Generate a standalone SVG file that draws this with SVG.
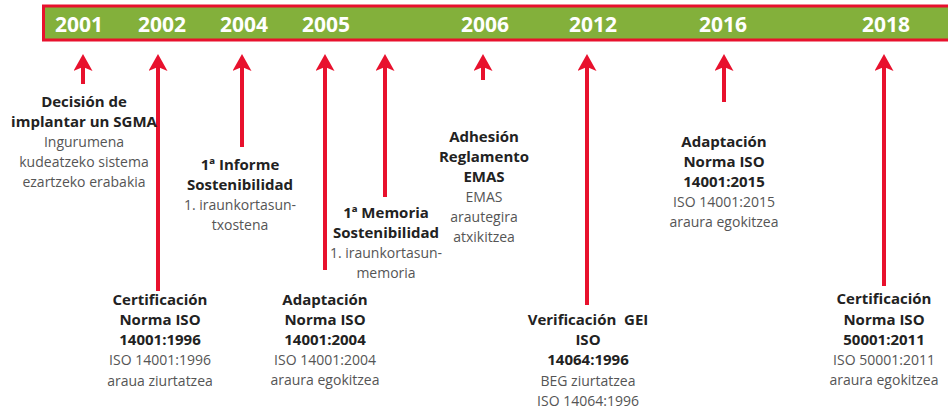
<svg xmlns="http://www.w3.org/2000/svg" width="948" height="414" viewBox="0 0 948 414">
<style>
.b{font-family:"Open Sans","Noto Sans",sans-serif;font-weight:700;font-size:15px;fill:#222;text-anchor:middle}
.r{font-family:"Open Sans","Noto Sans",sans-serif;font-weight:400;font-size:14px;fill:#555;text-anchor:middle}
.y{font-family:"Open Sans","Noto Sans",sans-serif;font-weight:700;font-size:21px;fill:#fff;text-anchor:middle}
.a{stroke:#e8112d;stroke-width:4;fill:none;marker-end:url(#ah)}
</style>
<defs>
<marker id="ah" markerUnits="userSpaceOnUse" viewBox="0 0 17 19" markerWidth="17" markerHeight="19" refX="4" refY="9.5" orient="auto">
<path d="M0,0 L17,9.5 L0,19 L4,9.5 Z" fill="#e8112d"/>
</marker>
</defs>
<rect width="948" height="414" fill="#fff"/>
<g id="timeline-bar">
<rect x="43.5" y="6" width="910" height="34" fill="#83b03b" stroke="#e8112d" stroke-width="3"/>
<text class="y" x="79" y="32">2001</text>
<text class="y" x="162" y="32">2002</text>
<text class="y" x="244" y="32">2004</text>
<text class="y" x="326" y="32">2005</text>
<text class="y" x="485" y="32">2006</text>
<text class="y" x="593" y="32">2012</text>
<text class="y" x="723" y="32">2016</text>
<text class="y" x="886" y="32">2018</text>
</g>
<g id="connectors">
<line class="a" x1="83" y1="84" x2="83" y2="67"/>
<line class="a" x1="158" y1="291" x2="158" y2="67"/>
<line class="a" x1="242" y1="147" x2="242" y2="67"/>
<line class="a" x1="325" y1="270" x2="325" y2="67"/>
<line class="a" x1="385" y1="197" x2="385" y2="67"/>
<line class="a" x1="483" y1="80" x2="483" y2="67"/>
<line class="a" x1="587" y1="305" x2="587" y2="67"/>
<line class="a" x1="724" y1="102" x2="724" y2="67"/>
<line class="a" x1="884" y1="286" x2="884" y2="67"/>
</g>
<g id="n2001">
<text class="b" x="84" y="107">Decisión de</text>
<text class="b" x="84" y="127">implantar un SGMA</text>
<text class="r" x="84" y="147">Ingurumena</text>
<text class="r" x="84" y="167">kudeatzeko sistema</text>
<text class="r" x="84" y="187">ezartzeko erabakia</text>
</g>
<g id="n2002">
<text class="b" x="160" y="305">Certificación</text>
<text class="b" x="160" y="325">Norma ISO</text>
<text class="b" x="160" y="345">14001:1996</text>
<text class="r" x="160" y="365">ISO 14001:1996</text>
<text class="r" x="160" y="386">araua ziurtatzea</text>
</g>
<g id="n2004">
<text class="b" x="240" y="170">1ª Informe</text>
<text class="b" x="240" y="190">Sostenibilidad</text>
<text class="r" x="240" y="210">1. iraunkortasun-</text>
<text class="r" x="240" y="230">txostena</text>
</g>
<g id="n2005a">
<text class="b" x="325" y="305">Adaptación</text>
<text class="b" x="325" y="325">Norma ISO</text>
<text class="b" x="325" y="345">14001:2004</text>
<text class="r" x="325" y="365">ISO 14001:2004</text>
<text class="r" x="325" y="385">araura egokitzea</text>
</g>
<g id="n2005b">
<text class="b" x="386" y="218">1ª Memoria</text>
<text class="b" x="386" y="238">Sostenibilidad</text>
<text class="r" x="386" y="258">1. iraunkortasun-</text>
<text class="r" x="386" y="278">memoria</text>
</g>
<g id="n2006">
<text class="b" x="484" y="142">Adhesión</text>
<text class="b" x="484" y="162">Reglamento</text>
<text class="b" x="484" y="182">EMAS</text>
<text class="r" x="484" y="202">EMAS</text>
<text class="r" x="484" y="222">arautegira</text>
<text class="r" x="484" y="242">atxikitzea</text>
</g>
<g id="n2012">
<text class="b" x="588" y="325" xml:space="preserve">Verificación  GEI</text>
<text class="b" x="588" y="345">ISO</text>
<text class="b" x="588" y="365">14064:1996</text>
<text class="r" x="588" y="386">BEG ziurtatzea</text>
<text class="r" x="588" y="406">ISO 14064:1996</text>
</g>
<g id="n2016">
<text class="b" x="724" y="147">Adaptación</text>
<text class="b" x="724" y="167">Norma ISO</text>
<text class="b" x="724" y="187">14001:2015</text>
<text class="r" x="724" y="207">ISO 14001:2015</text>
<text class="r" x="724" y="227">araura egokitzea</text>
</g>
<g id="n2018">
<text class="b" x="884" y="304">Certificación</text>
<text class="b" x="884" y="325">Norma ISO</text>
<text class="b" x="884" y="345">50001:2011</text>
<text class="r" x="884" y="365">ISO 50001:2011</text>
<text class="r" x="884" y="385">araura egokitzea</text>
</g>
</svg>
